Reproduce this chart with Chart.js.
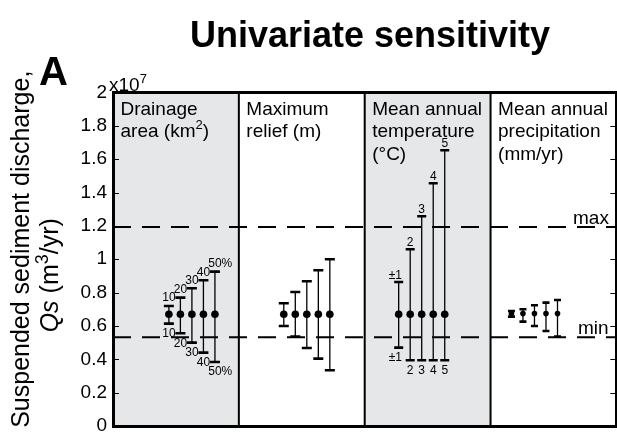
<!DOCTYPE html>
<html>
<head>
<meta charset="utf-8">
<script src="https://cdn.jsdelivr.net/npm/chart.js@4.4.1/dist/chart.umd.min.js"></script>
<style>
  html, body { margin: 0; padding: 0; background: #fff; overflow: hidden; }
</style>
</head>
<body>
<canvas id="sens" width="624" height="437"></canvas>
<script>
// Qs in units of 1e7 m^3/yr
const yTicks = [0, 0.2, 0.4, 0.6, 0.8, 1, 1.2, 1.4, 1.6, 1.8, 2];
const panelTitles = [
  ["Drainage", "area (km^2)"],
  ["Maximum", "relief (m)"],
  ["Mean annual", "temperature", "(°C)"],
  ["Mean annual", "precipitation", "(mm/yr)"]
];
const baseQs = [0.67, 0.67, 0.67, 0.674];

const drainageLow  = [0.614, 0.556, 0.500, 0.440, 0.384];
const drainageHigh = [0.720, 0.770, 0.826, 0.874, 0.926];
const reliefLow    = [0.600, 0.536, 0.468, 0.404, 0.334];
const reliefHigh   = [0.736, 0.804, 0.868, 0.934, 1.000];
const tempLow      = [0.470, 0.394, 0.394, 0.394, 0.394];
const tempHigh     = [0.864, 1.060, 1.258, 1.456, 1.654];
const precipLow    = [0.656, 0.626, 0.600, 0.570, 0.536];
const precipHigh   = [0.690, 0.700, 0.724, 0.740, 0.756];

const drainageLabels = ["10", "20", "30", "40", "50%"];
const tempLabels = ["±1", "2", "3", "4", "5"];

const qsMax = 1.194;
const qsMin = 0.532;

// layout of the bars inside each panel (panel = 1 unit on x)
const firstBar = [0.444, 0.357, 0.270, 0.166];
const barStep = 0.0915;
const capHalf = [5, 5, 4.5, 3.5];
const dotRadius = [3.8, 3.8, 3.8, 2.8];
const shadedPanels = [0, 2];
const FONT = '"Liberation Sans", Arial, Helvetica, sans-serif';

const lows = [drainageLow, reliefLow, tempLow, precipLow];
const highs = [drainageHigh, reliefHigh, tempHigh, precipHigh];
const barX = (p, i) => p + firstBar[p] + i * barStep;

function barPoints(p) {
  const pts = [];
  lows[p].forEach((lo, i) => {
    const x = barX(p, i);
    pts.push({x, y: lo}, {x, y: highs[p][i]}, {x, y: null});
  });
  return pts;
}

const dots = [], dotSizes = [];
lows.forEach((lo, p) => lo.forEach((_, i) => {
  dots.push({x: barX(p, i), y: baseQs[p]});
  dotSizes.push(dotRadius[p]);
}));

function richParts(str) {
  return str.split(/(\^\d)/).filter(s => s).map(s =>
    s[0] === '^' ? {t: s.slice(1), sup: true} : {t: s});
}

function drawRich(ctx, parts, x, y, size, align) {
  const fontFor = p => (p.italic ? 'italic ' : '') + (p.sup ? Math.round(size * 0.7) : size) + 'px ' + FONT;
  let total = 0;
  parts.forEach(p => { ctx.font = fontFor(p); total += ctx.measureText(p.t).width; });
  let cx = align === 'center' ? x - total / 2 : x;
  ctx.textAlign = 'left';
  parts.forEach(p => {
    ctx.font = fontFor(p);
    ctx.fillText(p.t, cx, p.sup ? y - size * 0.4 : y);
    cx += ctx.measureText(p.t).width;
  });
}

// number part of the label sits centred over the bar
function capLabel(ctx, label, px, py) {
  const core = label.replace(/[^0-9]/g, '');
  const prefix = label.slice(0, label.indexOf(core));
  const w = ctx.measureText(core).width;
  const pw = ctx.measureText(prefix).width;
  ctx.fillText(label, px - w / 2 - pw, py);
}

const panelPlugin = {
  id: 'panels',
  beforeDraw(chart) {
    const {ctx, chartArea: a, scales: {x}} = chart;
    ctx.save();
    ctx.fillStyle = '#e6e7e9';
    shadedPanels.forEach(p => {
      const l = x.getPixelForValue(p), r = x.getPixelForValue(p + 1);
      ctx.fillRect(l, a.top, r - l, a.bottom - a.top);
    });
    ctx.restore();
  },
  beforeDatasetsDraw(chart) {
    const {ctx, chartArea: a, scales: {x, y}} = chart;
    ctx.save();
    ctx.strokeStyle = '#000';
    ctx.lineWidth = 2;
    for (let p = 1; p < panelTitles.length; p++) {
      const px = x.getPixelForValue(p);
      ctx.beginPath();
      ctx.moveTo(px, a.top);
      ctx.lineTo(px, a.bottom);
      ctx.stroke();
    }
    // tick marks point into the plot on both sides
    ctx.lineWidth = 1;
    yTicks.forEach(v => {
      const py = Math.round(y.getPixelForValue(v)) + 0.5;
      ctx.beginPath();
      ctx.moveTo(a.left, py); ctx.lineTo(a.left + 6, py);
      ctx.moveTo(a.right - 6, py); ctx.lineTo(a.right, py);
      ctx.stroke();
    });
    ctx.restore();
  },
  afterDatasetsDraw(chart) {
    const {ctx, scales: {x, y}} = chart;
    ctx.save();
    ctx.fillStyle = '#000';
    ctx.font = '12px ' + FONT;
    ctx.textAlign = 'left';
    ctx.textBaseline = 'alphabetic';
    drainageLabels.forEach((lab, i) => {
      const px = x.getPixelForValue(barX(0, i));
      capLabel(ctx, lab, px, y.getPixelForValue(drainageHigh[i]) - 4.5);
      capLabel(ctx, lab, px, y.getPixelForValue(drainageLow[i]) + 13.5);
    });
    tempLabels.forEach((lab, i) => {
      const px = x.getPixelForValue(barX(2, i));
      capLabel(ctx, lab, px, y.getPixelForValue(tempHigh[i]) - 3);
      capLabel(ctx, lab, px, y.getPixelForValue(tempLow[i]) + 13.5);
    });
    ctx.restore();
  },
  afterDraw(chart) {
    const {ctx, chartArea: a, scales: {x, y}} = chart;
    ctx.save();
    ctx.fillStyle = '#000';
    ctx.textBaseline = 'alphabetic';

    ctx.font = 'bold 36px ' + FONT;
    ctx.textAlign = 'center';
    ctx.fillText('Univariate sensitivity', 370, 47);
    ctx.textAlign = 'left';
    ctx.font = 'bold 40px ' + FONT;
    ctx.fillText('A', 39, 85);

    drawRich(ctx, [{t: 'x10'}, {t: '7', sup: true}], a.left - 4, a.top - 2, 19, 'left');

    // panel headings
    panelTitles.forEach((lines, p) => {
      const left = x.getPixelForValue(p) + 7.5;
      lines.forEach((line, k) => drawRich(ctx, richParts(line), left, a.top + 22 + k * 22.5, 19, 'left'));
    });

    ctx.font = '19px ' + FONT;
    ctx.fillText('max', 573, y.getPixelForValue(qsMax) - 3);
    ctx.fillText('min', 578, y.getPixelForValue(qsMin) - 3);

    // vertical axis title
    const midY = (a.top + a.bottom) / 2;
    ctx.save();
    ctx.translate(29, midY - 10);
    ctx.rotate(-Math.PI / 2);
    drawRich(ctx, [{t: 'Suspended sediment discharge,'}], 0, 0, 25, 'center');
    ctx.restore();
    ctx.save();
    ctx.translate(58, midY + 16);
    ctx.rotate(-Math.PI / 2);
    drawRich(ctx, [{t: 'Qs', italic: true}, {t: ' (m'}, {t: '3', sup: true}, {t: '/yr)'}], 0, 0, 25, 'center');
    ctx.restore();

    ctx.restore();
  }
};

const datasets = [
  {
    data: dots,
    pointRadius: dotSizes,
    pointHoverRadius: dotSizes,
    pointBackgroundColor: '#000',
    pointBorderWidth: 0
  }
];
lows.forEach((_, p) => datasets.push({
  data: barPoints(p),
  showLine: true,
  spanGaps: false,
  borderColor: '#000',
  borderWidth: 1.3,
  pointStyle: 'line',
  pointRadius: capHalf[p],
  pointHoverRadius: capHalf[p],
  pointBorderWidth: 2.6,
  pointBorderColor: '#000'
}));
[qsMax, qsMin].forEach(v => datasets.push({
  data: [{x: 0, y: v}, {x: panelTitles.length, y: v}],
  showLine: true,
  borderColor: '#000',
  borderWidth: 2,
  borderDash: [18, 11],
  pointRadius: 0
}));

const edge = {display: true, color: '#000', width: 3};
const noPad = s => { s.paddingTop = 0; s.paddingBottom = 0; s.paddingLeft = 0; s.paddingRight = 0; };

new Chart(document.getElementById('sens'), {
  type: 'scatter',
  data: { datasets },
  plugins: [panelPlugin],
  options: {
    responsive: false,
    animation: false,
    events: [],
    layout: { padding: { left: 0, top: 92.5, right: 4, bottom: 11 } },
    plugins: { legend: { display: false }, tooltip: { enabled: false } },
    scales: {
      x: {
        type: 'linear', min: 0, max: panelTitles.length,
        grid: { display: false, drawTicks: false },
        ticks: { display: false },
        border: edge,
        afterFit: s => { s.height = 0; noPad(s); }
      },
      xTop: {
        type: 'linear', position: 'top', min: 0, max: panelTitles.length,
        grid: { display: false, drawTicks: false },
        ticks: { display: false },
        border: edge,
        afterFit: s => { s.height = 0; noPad(s); }
      },
      y: {
        type: 'linear', min: 0, max: 2,
        afterBuildTicks: s => { s.ticks = yTicks.map(v => ({value: v})); },
        ticks: {
          color: '#000',
          padding: 6,
          font: { family: FONT, size: 19 },
          callback: v => String(+v.toFixed(1))
        },
        grid: { display: false, drawTicks: false },
        border: edge,
        afterFit: s => { s.width = 113; noPad(s); }
      },
      yRight: {
        type: 'linear', position: 'right', min: 0, max: 2,
        grid: { display: false, drawTicks: false },
        ticks: { display: false },
        border: edge,
        afterFit: s => { s.width = 0; noPad(s); }
      }
    }
  }
});
</script>
</body>
</html>
